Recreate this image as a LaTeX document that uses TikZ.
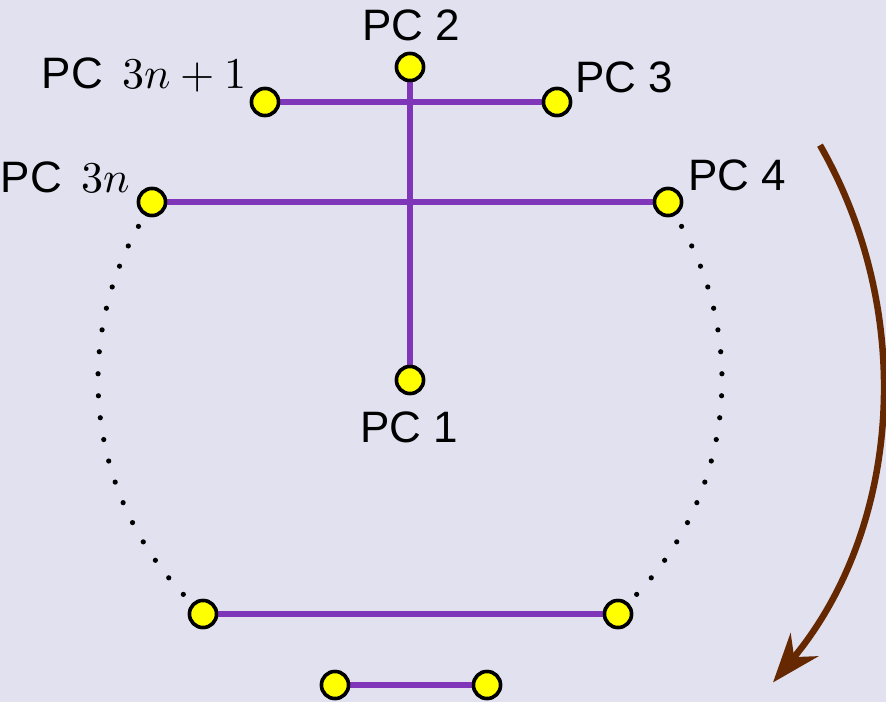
\documentclass[tikz,border=0pt]{standalone}
\usepackage{fontspec}
\usepackage{unicode-math}
\setmainfont{Liberation Sans}
\setmathfont{Latin Modern Math}
\usetikzlibrary{arrows.meta}
\definecolor{bgcol}{RGB}{225,225,240}
\definecolor{pline}{RGB}{128,54,184}
\definecolor{brownarrow}{RGB}{102,40,0}
\definecolor{pcyellow}{RGB}{255,255,0}
\begin{document}
\begin{tikzpicture}[x=1pt,y=-1pt,
  pc/.style={circle,draw=black,fill=pcyellow,line width=3.5pt,minimum size=27pt,inner sep=0pt},
  link/.style={pline,line width=5.5pt},
  lbl/.style={font=\fontsize{44}{52}\selectfont,inner sep=0pt},
  dotmark/.style={fill=black},
  turn/.style={brownarrow,line width=6.5pt,-{Stealth[length=49pt,width=36pt,inset=16pt]}}]
\fill[bgcol] (0,0) rectangle (886,702);
\useasboundingbox (0,0) rectangle (886,702);
% nodes
\node[pc] (p1) at (410,380) {};
\node[pc] (p2) at (410,67) {};
\node[pc] (p3n1) at (265,102) {};
\node[pc] (p3) at (557,102) {};
\node[pc] (p3n) at (152,202) {};
\node[pc] (p4) at (668,202) {};
\node[pc] (bl) at (203,614) {};
\node[pc] (br) at (618,614) {};
\node[pc] (cl) at (335,685) {};
\node[pc] (cr) at (487,685) {};
% connectors
\draw[link] (p2) -- (p1);
\draw[link] (p3n1) -- (p3);
\draw[link] (p3n) -- (p4);
\draw[link] (bl) -- (br);
\draw[link] (cl) -- (cr);
% nodes again on top of crossing lines
\foreach \n in {p1,p2,p3n1,p3,p3n,p4,bl,br,cl,cr}{\node[pc] at (\n) {};}
% labels
\node[lbl,anchor=base] (l2) at (411,40) {PC 2};
\node[lbl,anchor=base east] (l3n1) at (247,88) {PC\, $3n+1$};
\node[lbl,anchor=base west] (l3) at (575,92) {PC 3};
\node[lbl,anchor=base east] (l3n) at (130,192) {PC\, $3n$};
\node[lbl,anchor=base west] (l4) at (688,190) {PC 4};
\node[lbl,anchor=base] (l1) at (409,442) {PC 1};
% dotted arcs
\foreach \i in {0,...,18}{
  \fill[dotmark] (p1.center) ++({-150.5-\i*72.9/18}:312) circle (2.6pt);
  \fill[dotmark] (p1.center) ++({-29.5+\i*72.9/18}:312) circle (2.6pt);
}
% rotation arrow
\draw[turn] (p1.center) ++(-29.8:472.5) arc[start angle=-29.8, end angle=39.8, radius=472.5];
\end{tikzpicture}
\end{document}
